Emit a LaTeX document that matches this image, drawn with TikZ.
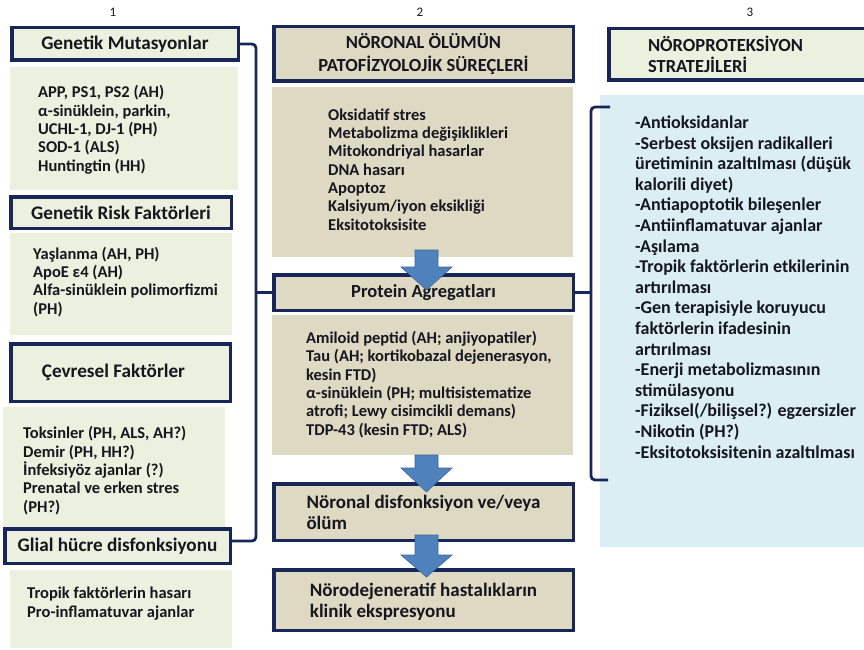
\documentclass[tikz,border=0pt]{standalone}
\usepackage{fontspec}
\setmainfont{Carlito}
\usepackage{tikz}
\usetikzlibrary{positioning}
\definecolor{navy}{RGB}{24,38,88}
\definecolor{olivebg}{HTML}{EBF1DE}
\definecolor{tanbg}{HTML}{DDD9C3}
\definecolor{aquabg}{HTML}{DBEEF4}
\definecolor{blkblue}{HTML}{4F81BD}
\definecolor{ink}{RGB}{22,22,30}
\tikzset{
  hdr/.style={draw=navy, line width=3.5pt, inner sep=0pt, outer sep=0pt, text=ink,
    font=\bfseries\fontsize{18.5}{23}\selectfont, align=center},
  lhdr/.style={hdr, fill=olivebg, font=\bfseries\fontsize{19.2}{23}\selectfont},
  panel/.style={inner sep=0pt, outer sep=0pt, anchor=north west},
  lst/.style={anchor=base west, inner sep=0pt, align=left, text=ink,
    font=\bfseries\fontsize{16.5}{18.3}\selectfont},
  brk/.style={draw=navy, line width=2.8pt, rounded corners=4pt},
  blk/.style={fill=blkblue, draw=blkblue!80!black, line width=0.6pt},
  colnum/.style={text=ink, font=\fontsize{13}{15}\selectfont}
}
\begin{document}
\begin{tikzpicture}[x=1pt, y=-1pt]
\useasboundingbox (0,0) rectangle (864,650);
%column numbers
\node[colnum] (n1) at (113,12) {1};
\node[colnum] (n2) at (420,12) {2};
\node[colnum] (n3) at (750,12) {3};

%column 1
\node[lhdr, minimum width=226.5pt, minimum height=32.5pt] (gm) at (125,44) {Genetik Mutasyonlar};
\node[panel, fill=olivebg, minimum width=228pt, minimum height=123pt] (gmbox) at (10,67) {};
\node[lst, xshift=28pt, yshift=-104pt] (gmlist) at (gmbox.north west)
  {APP, PS1, PS2 (AH)\\ α-sinüklein, parkin,\\ UCHL-1, DJ-1 (PH)\\ SOD-1 (ALS)\\ Huntingtin (HH)};

\node[lhdr, minimum width=220.5pt, minimum height=31.5pt] (grf) at (121,212.5) {Genetik Risk Faktörleri};
\node[panel, fill=olivebg, minimum width=222pt, minimum height=102pt] (grfbox) at (10,233) {};
\node[lst, xshift=23pt, yshift=-81pt] (grflist) at (grfbox.north west)
  {Yaşlanma (AH, PH)\\ ApoE ε4 (AH)\\ Alfa-sinüklein polimorfizmi\\ (PH)};

\node[lhdr, minimum width=219.5pt, minimum height=57.5pt] (cf) at (120.5,372.5) {\hspace*{-14pt}Çevresel Faktörler};
\node[panel, fill=olivebg, minimum width=222pt, minimum height=120pt] (cfbox) at (3,407) {};
\node[lst, xshift=20pt, yshift=-105pt] (cflist) at (cfbox.north west)
  {Toksinler (PH, ALS, AH?)\\ Demir (PH, HH?)\\ İnfeksiyöz ajanlar (?)\\ Prenatal ve erken stres\\ (PH?)};

\node[lhdr, minimum width=225.5pt, minimum height=34.5pt] (glial) at (117.5,546) {Glial hücre disfonksiyonu};
\node[panel, fill=olivebg, minimum width=222pt, minimum height=78pt] (glbox) at (10,570) {};
\node[lst, xshift=17pt, yshift=-47pt] (gllist) at (glbox.north west)
  {Tropik faktörlerin hasarı\\ Pro-inflamatuvar ajanlar};

%column 2
\node[hdr, fill=tanbg, minimum width=299.5pt, minimum height=54.5pt] (npath) at (423.5,54)
  {NÖRONAL ÖLÜMÜN\\ PATOFİZYOLOJİK SÜREÇLERİ};
\node[panel, fill=tanbg, minimum width=301pt, minimum height=170pt] (npbox) at (272,87) {};
\node[lst, xshift=56pt, yshift=-143pt] (nplist) at (npbox.north west)
  {Oksidatif stres\\ Metabolizma değişiklikleri\\ Mitokondriyal hasarlar\\ DNA hasarı\\ Apoptoz\\ Kalsiyum/iyon eksikliği\\ Eksitotoksisite};

\node[hdr, fill=tanbg, minimum width=299.5pt, minimum height=35.5pt] (protein) at (423.5,292.5) {Protein Agregatları};
\node[panel, fill=tanbg, minimum width=301pt, minimum height=140pt] (prbox) at (272,315) {};
\node[lst, xshift=34pt, yshift=-120pt] (prlist) at (prbox.north west)
  {Amiloid peptid (AH; anjiyopatiler)\\ Tau (AH; kortikobazal dejenerasyon,\\ kesin FTD)\\ α-sinüklein (PH; multisistematize\\ atrofi; Lewy cisimcikli demans)\\ TDP-43 (kesin FTD; ALS)};

\node[hdr, fill=tanbg, minimum width=299.5pt, minimum height=56.5pt, align=left,
  font=\bfseries\fontsize{19}{21}\selectfont] (ndis) at (423.5,512)
  {Nöronal disfonksiyon ve/veya\\ ölüm};
\node[hdr, fill=tanbg, minimum width=299.5pt, minimum height=60.5pt, align=left,
  font=\bfseries\fontsize{19}{21.5}\selectfont] (nclin) at (423.5,600)
  {\rule{0pt}{17pt}Nörodejeneratif hastalıkların\\ klinik ekspresyonu};

%block arrows
\foreach \t/\b/\p in {250/267/290, 455/468/492, 535/555/577}
  \draw[blk] (415,\t) -- (438,\t) -- (438,\b) -- (452,\b) -- (426.5,\p) -- (401,\b) -- (415,\b) -- cycle;

%column 3
\node[hdr, fill=olivebg, minimum width=259.5pt, minimum height=51.5pt, text width=181pt, align=left,
  font=\bfseries\fontsize{18.5}{21}\selectfont] (nps) at (738.5,54.5)
  {NÖROPROTEKSİYON\\ STRATEJİLERİ};
\node[panel, fill=aquabg, minimum width=264pt, minimum height=452pt] (npsbox) at (600,95) {};
\node[lst, font=\bfseries\fontsize{18}{20.6}\selectfont, xshift=35pt, yshift=-363pt] (npslist) at (npsbox.north west)
  {-Antioksidanlar\\ -Serbest oksijen radikalleri\\ üretiminin azaltılması (düşük\\ kalorili diyet)\\
   -Antiapoptotik bileşenler\\ -Antiinflamatuvar ajanlar\\ -Aşılama\\ -Tropik faktörlerin etkilerinin\\ artırılması\\
   -Gen terapisiyle koruyucu\\ faktörlerin ifadesinin\\ artırılması\\ -Enerji metabolizmasının\\ stimülasyonu\\
   -Fiziksel(/bilişsel?) egzersizler\\ -Nikotin (PH?)\\ -Eksitotoksisitenin azaltılması};

%brackets
\coordinate (rtop) at (610,107);
\coordinate (rbot) at (608,480);
\draw[brk] (gm.east) -| (256,541) -- ([yshift=5pt]glial.east);
\draw[brk] (protein.west) -- (256,292.5);
\draw[brk] (rtop) -| (591,480) -- (rbot);
\draw[brk] (protein.east) -- (591,292.5);
\end{tikzpicture}
\end{document}
